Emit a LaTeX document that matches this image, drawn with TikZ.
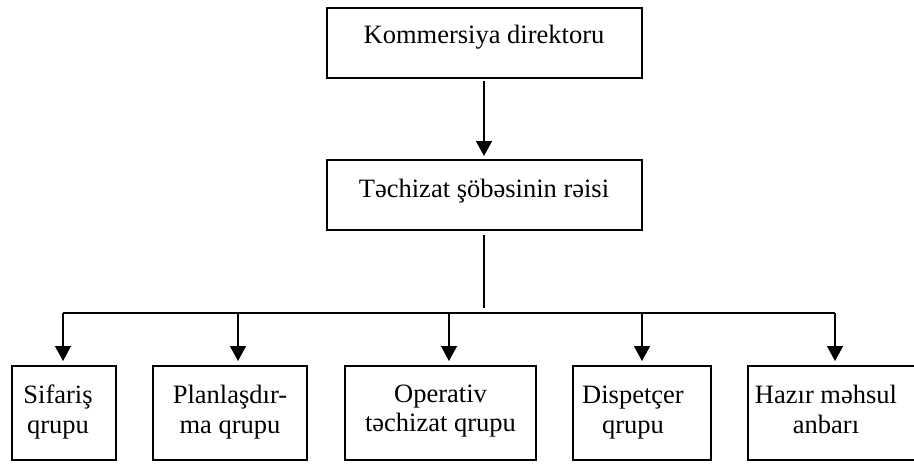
\documentclass[tikz,border=0pt]{standalone}
\usepackage{fontspec}
\setmainfont{Liberation Serif}
\usetikzlibrary{arrows.meta}
\tikzset{
  box/.style={draw=black, line width=2pt, rectangle, inner sep=0pt, outer sep=0pt},
  txt/.style={anchor=base, inner sep=0pt, outer sep=0pt, font=\fontsize{26.5}{29.5}\selectfont},
  conn/.style={draw=black, line width=1.4pt},
  arr/.style={conn, -{Triangle[width=16pt,length=15pt]}},
}
\begin{document}
\begin{tikzpicture}[x=1pt,y=-1pt]
\clip (0,0) rectangle (914,464);
\fill[white] (0,0) rectangle (914,464);
% boxes
\node[box, minimum width=315, minimum height=70] (kd) at (484.5,43) {};
\node[box, minimum width=315, minimum height=70] (tr) at (484.5,195) {};
\node[box, minimum width=104, minimum height=94.5] (s1) at (64,412.75) {};
\node[box, minimum width=154, minimum height=94.5] (s2) at (230,412.75) {};
\node[box, minimum width=191, minimum height=94.5] (s3) at (440.5,412.75) {};
\node[box, minimum width=138, minimum height=94.5] (s4) at (642,412.75) {};
\node[box, minimum width=174, minimum height=94.5] (s5) at (835,412.75) {};
% texts
\node[txt] (kdt) at (484,43) {Kommersiya direktoru};
\node[txt] (trt) at (484,197) {Təchizat şöbəsinin rəisi};
\node[txt] (s1t) at (58,403.5) {\begin{tabular}[t]{@{}c@{}}Sifariş\\qrupu\end{tabular}};
\node[txt] (s2t) at (230,403.5) {\begin{tabular}[t]{@{}c@{}}Planlaşdır-\\ma qrupu\end{tabular}};
\node[txt] (s3t) at (440.5,402) {\begin{tabular}[t]{@{}c@{}}Operativ\\təchizat qrupu\end{tabular}};
\node[txt] (s4t) at (633,403.5) {\begin{tabular}[t]{@{}c@{}}Dispetçer\\qrupu\end{tabular}};
\node[txt] (s5t) at (826,403.5) {\begin{tabular}[t]{@{}c@{}}Hazır məhsul\\anbarı\end{tabular}};
% bus coordinates
\coordinate (b1) at (63,313);
\coordinate (b2) at (238,313);
\coordinate (b3) at (449,313);
\coordinate (b4) at (642,313);
\coordinate (b5) at (835,313);
\coordinate (bm) at (484,308);
% connectors
\draw[arr, shorten <=3pt, shorten >=4pt] (kd.south -| bm) -- (tr.north -| bm);
\draw[conn, shorten <=5pt] (tr.south -| bm) -- (bm);
\draw[conn] (b1) -- (b5);
\draw[arr, shorten >=4.5pt] (b1) -- (b1 |- s1.north);
\draw[arr, shorten >=4.5pt] (b2) -- (b2 |- s2.north);
\draw[arr, shorten >=4.5pt] (b3) -- (b3 |- s3.north);
\draw[arr, shorten >=4.5pt] (b4) -- (b4 |- s4.north);
\draw[arr, shorten >=4.5pt] (b5) -- (b5 |- s5.north);
\end{tikzpicture}
\end{document}
